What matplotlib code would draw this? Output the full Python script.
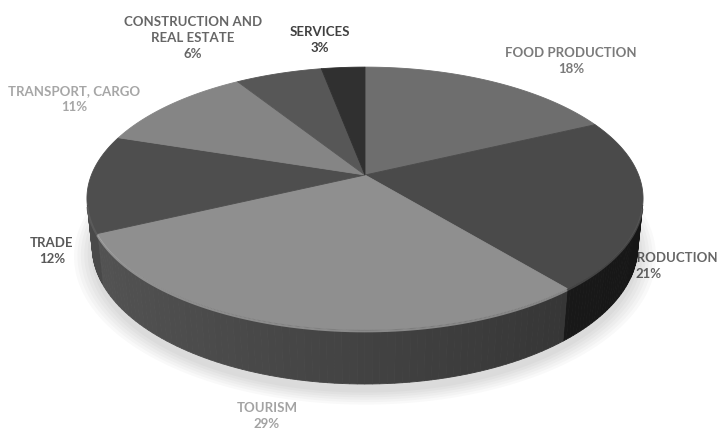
import numpy as np
import matplotlib.pyplot as plt
from matplotlib.patches import Polygon

# slice data, clockwise from 12 o'clock
labels = ["FOOD PRODUCTION", "OTHER PRODUCTION", "TOURISM", "TRADE",
          "TRANSPORT, CARGO", "CONSTRUCTION AND\nREAL ESTATE", "SERVICES"]
shares = [18, 21, 29, 12, 11, 6, 3]

top_colors = ["#6e6e6e", "#4a4a4a", "#8f8f8f", "#4e4e4e", "#858585", "#575757", "#303030"]
wall_colors = ["#3a3a3a", "#1e1e1e", "#424242", "#3a3a3a", "#4a4a4a", "#333333", "#202020"]
label_colors = ["#7a7a7a", "#666666", "#a3a3a3", "#595959", "#a6a6a6", "#666666", "#404040"]
label_pos = [(571, 61), (649, 266), (267, 416), (52, 251), (74, 99), (193, 38), (320, 40)]

# fake 3D camera (pixel space)
ELEV = np.radians(27.7)
DIST = 4.96
FOCAL = 1357
HUB = (365, 175)
DEPTH = 0.2


def project(x, y, z):
    c, s = np.cos(ELEV), np.sin(ELEV)
    w = DIST + y * c - z * s
    v = y * s + z * c
    return HUB[0] + FOCAL * x / w, HUB[1] - FOCAL * v / w


def shade(hex_color, factor):
    rgb = np.array([int(hex_color[i:i + 2], 16) for i in (1, 3, 5)]) / 255
    return tuple(np.clip(rgb * factor, 0, 1))


fig = plt.figure(figsize=(7.21, 4.30), dpi=100)
ax = fig.add_axes([0, 0, 1, 1])
ax.set_xlim(0, 721)
ax.set_ylim(430, 0)
ax.axis("off")

# labels sit behind the pie (OTHER PRODUCTION is partly hidden)
for text, pct, (lx, ly), col in zip(labels, shares, label_pos, label_colors):
    ax.text(lx, ly, f"{text}\n{pct}%", ha="center", va="center", fontsize=9.5,
            fontweight="bold", family="Lato", color=col, linespacing=1.45, zorder=1)

# soft shadow
for scale in np.linspace(1.06, 1.0, 6):
    phi = np.linspace(0, 2 * np.pi, 200)
    sx, sy = project(scale * np.cos(phi), scale * np.sin(phi) - 0.03, -DEPTH - 0.01)
    ax.add_patch(Polygon(np.column_stack([sx, sy]), closed=True, facecolor="#000000",
                         alpha=0.025, lw=0, zorder=2))

bounds = np.concatenate([[0], np.cumsum(shares)]) / sum(shares) * 360
vis_limit = -1 / (DIST * np.cos(ELEV))

for i in range(len(shares)):
    phi = np.radians(90 - np.linspace(bounds[i], bounds[i + 1], 80))
    # outer wall, only the part facing the camera
    for p0, p1 in zip(phi[:-1], phi[1:]):
        pm = 0.5 * (p0 + p1)
        if np.sin(pm) >= vis_limit:
            continue
        xt, yt = project(np.cos([p0, p1]), np.sin([p0, p1]), 0)
        xb, yb = project(np.cos([p1, p0]), np.sin([p1, p0]), -DEPTH)
        col = shade(wall_colors[i], 1 - 0.28 * np.cos(pm))
        ax.add_patch(Polygon(np.column_stack([np.r_[xt, xb], np.r_[yt, yb]]), closed=True,
                             facecolor=col, edgecolor=col, lw=0.6, zorder=3))
    # top face
    rx, ry = project(np.cos(phi), np.sin(phi), 0)
    pts = np.column_stack([np.r_[HUB[0], rx], np.r_[HUB[1], ry]])
    ax.add_patch(Polygon(pts, closed=True, facecolor=top_colors[i],
                         edgecolor=top_colors[i], lw=0.6, zorder=4))
    # bevel highlight on the front rim
    front = np.sin(phi) < vis_limit
    if front.any():
        ax.plot(rx[front], ry[front] + 1.5, color=shade(top_colors[i], 1.3),
                lw=1.5, alpha=0.6, zorder=5, solid_capstyle="butt")

fig.savefig("out.png", dpi=100)
